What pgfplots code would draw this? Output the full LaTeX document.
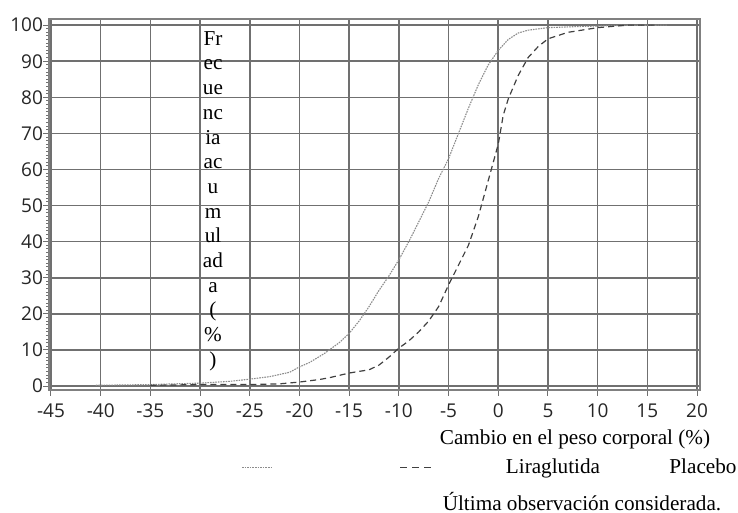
\documentclass[border=0pt]{standalone}
\usepackage{fontspec}
\setmainfont{Liberation Serif}
\newfontfamily\tickfont{Open Sans}
\usepackage{pgfplots}
\pgfplotsset{compat=1.18}
\definecolor{gridc}{HTML}{707070}
\definecolor{liracol}{HTML}{8C8C8C}
\definecolor{placol}{HTML}{404040}
\begin{document}
\begin{tikzpicture}
\path[use as bounding box] (0,0) rectangle (369pt,256.5pt);
\begin{axis}[
  at={(24.5pt,61.5pt)}, anchor=south west,
  scale only axis, width=325.5pt, height=185.5pt,
  xmin=-45.2, xmax=20.3, ymin=-1.1, ymax=101.7,
  xtick={-45,-40,...,20}, ytick={0,10,...,100},
  minor y tick num=9,
  tick align=outside, tick pos=left,
  major tick length=3pt, minor tick length=1.5pt,
  every tick/.style={gridc, line width=0.5pt},
  grid=major,
  major grid style={gridc, line width=0.75pt},
  axis line style={gray, line width=1.2pt},
  /pgf/number format/assume math mode=true,
  ticklabel style={font=\tickfont\fontsize{9.5}{10}\selectfont, text=black!85},
  xticklabel style={yshift=-0.5pt},
  yticklabel style={xshift=3.5pt},
]
\addplot[liracol, line width=0.55pt, dash pattern=on 0.8pt off 0.5pt] coordinates {
(-40.5,0.2)(-35,0.4)(-30,0.8)(-27,1.3)(-25,1.9)(-23,2.6)(-21,3.8)(-20,5.3)(-19,6.5)
(-17.5,9)(-16,12)(-15,14.6)(-14,18)(-13,22)(-12,26.5)(-11,30.5)(-10,35)(-9,40)
(-8,45.5)(-7,51)(-6,57.5)(-5,63)(-4,70)(-3,77)(-2,83.5)(-1,89)(0,93)(1,96)
(2,97.8)(3,98.6)(5,99.3)(8,99.6)(12,99.9)(17,100)};
\addplot[placol, line width=0.6pt, dash pattern=on 3pt off 2pt] coordinates {
(-35,0.2)(-30,0.4)(-25,0.4)(-22,0.6)(-20,1.1)(-18,1.8)(-17,2.3)(-15,3.6)(-13,4.5)
(-12,5.8)(-11,8)(-10,10.5)(-9,12.5)(-8,15)(-7,18)(-6,22)(-5,28)(-4,33.5)(-3,39)
(-2,47)(-1,57)(0,67)(0.5,75)(1,79.5)(2,86)(3,91)(4,94)(5,96.2)(7,98)(10,99.3)
(13,100)(16,100)};
\end{axis}
\node[anchor=north, align=center, font=\fontsize{10.6}{12.35}\selectfont, inner sep=0pt]
  at (106.5pt,241pt) {Fr\\ec\\ue\\nc\\ia\\ac\\u\\m\\ul\\ad\\a\\(\\\%\\)};
\node[anchor=base, font=\fontsize{10.6}{12.35}\selectfont, inner sep=0pt] at (287.5pt,34pt) {Cambio en el peso corporal (\%)};
\draw[liracol, line width=0.5pt, dash pattern=on 0.8pt off 0.5pt] (121pt,22.5pt) -- (136pt,22.5pt);
\draw[placol, line width=0.5pt, dash pattern=on 3.5pt off 2.5pt] (200pt,22.5pt) -- (216pt,22.5pt);
\node[anchor=base, font=\fontsize{10.6}{12.35}\selectfont, inner sep=0pt] at (276.5pt,19.5pt) {Liraglutida};
\node[anchor=base, font=\fontsize{10.6}{12.35}\selectfont, inner sep=0pt] at (351.5pt,19.5pt) {Placebo};
\node[anchor=base, font=\fontsize{10.6}{12.35}\selectfont, inner sep=0pt] at (291pt,1.2pt) {Última observación considerada.};
\end{tikzpicture}
\end{document}
